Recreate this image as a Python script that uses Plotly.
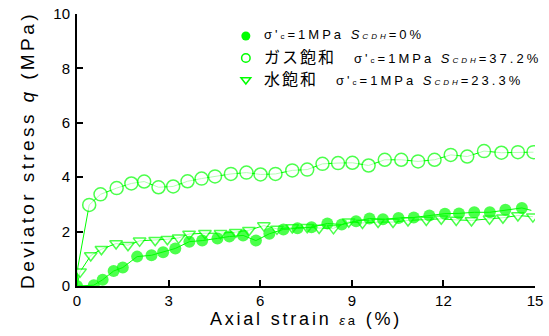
import plotly.graph_objects as go

# Filled circles: σ'c=1MPa S_CDH=0%
x0 = [0, 0.55, 0.84, 1.2, 1.5, 1.97, 2.44, 2.82, 3.22, 3.68, 4.1, 4.6, 4.99, 5.44, 5.86, 6.3,
      6.76, 7.22, 7.68, 8.2, 8.67, 9.14, 9.58, 10.02, 10.53, 11.03, 11.54, 12.05, 12.51, 13.01,
      13.52, 14.03, 14.57, 14.88]
y0 = [0, 0.03, 0.23, 0.55, 0.68, 1.08, 1.13, 1.24, 1.38, 1.63, 1.67, 1.75, 1.82, 1.86, 1.67, 1.92,
      2.08, 2.12, 2.16, 2.3, 2.26, 2.38, 2.48, 2.45, 2.5, 2.52, 2.59, 2.66, 2.67, 2.71,
      2.71, 2.8, 2.87, 2.78]

# Open circles: gas saturated, S_CDH=37.2%
xg = [0, 0.03, 0.4, 0.77, 1.3, 1.78, 2.2, 2.67, 3.15, 3.62, 4.08, 4.52, 5.04, 5.55, 6.01, 6.5,
      7.05, 7.54, 8.04, 8.55, 9.02, 9.55, 10.08, 10.62, 11.17, 11.71, 12.24, 12.78, 13.33,
      13.9, 14.44, 14.95]
yg = [0, 0.7, 2.98, 3.37, 3.6, 3.77, 3.84, 3.63, 3.66, 3.85, 3.95, 4.03, 4.12, 4.17, 4.1, 4.12,
      4.25, 4.28, 4.49, 4.52, 4.53, 4.43, 4.64, 4.64, 4.58, 4.64, 4.82, 4.76, 4.96,
      4.9, 4.92, 4.92]

# Open triangles: water saturated, S_CDH=23.3%
xw = [0, 0.1, 0.45, 0.8, 1.28, 1.67, 2.05, 2.56, 2.96, 3.33, 3.67, 4.19, 4.7, 5.2, 5.63, 6.12,
      6.55, 7.05, 7.54, 7.93, 8.4, 8.9, 9.35, 9.86, 10.35, 10.84, 11.44, 11.93, 12.42, 12.92,
      13.51, 13.95, 14.44, 14.93]
yw = [0, 0.52, 1.12, 1.35, 1.56, 1.5, 1.66, 1.68, 1.72, 1.77, 1.91, 1.94, 1.94, 1.98, 2.05, 2.22,
      2.1, 2.15, 2.16, 2.13, 2.12, 2.36, 2.32, 2.35, 2.35, 2.41, 2.43, 2.47, 2.43, 2.41,
      2.47, 2.51, 2.59, 2.55]

x_ticks = [0, 3, 6, 9, 12, 15]
y_ticks = [0, 2, 4, 6, 8, 10]

GREEN = "#00FF00"
FONT = "Liberation Sans, Arial, Noto Sans CJK JP"
LS = "letter-spacing:3px"

sizes0 = [12] * (len(x0) - 1) + [0]
sizesg = [0, 0] + [13] * (len(xg) - 2)
sizesw = [0] + [11] * (len(xw) - 1)

fig = go.Figure()
fig.add_trace(go.Scatter(x=xg, y=yg, mode="lines+markers", showlegend=False,
                         line=dict(color=GREEN, width=1),
                         marker=dict(symbol="circle", size=sizesg, color="white",
                                     line=dict(color=GREEN, width=1.5))))
fig.add_trace(go.Scatter(x=xw, y=yw, mode="lines+markers", showlegend=False,
                         line=dict(color=GREEN, width=1),
                         marker=dict(symbol="triangle-down", size=sizesw, color="white",
                                     line=dict(color=GREEN, width=1.5))))
fig.add_trace(go.Scatter(x=x0, y=y0, mode="lines+markers", showlegend=False,
                         line=dict(color=GREEN, width=1),
                         marker=dict(symbol="circle", size=sizes0, color=GREEN,
                                     line=dict(color=GREEN, width=0))))

# legend symbols only (text drawn as annotations)
fig.add_trace(go.Scatter(x=[None], y=[None], mode="markers", name=" ", legendgroup="a",
                         marker=dict(symbol="circle", size=9, color=GREEN)))
fig.add_trace(go.Scatter(x=[None], y=[None], mode="markers", name=" ", legendgroup="b",
                         marker=dict(symbol="circle", size=8.5, color="white",
                                     line=dict(color=GREEN, width=1.5))))
fig.add_trace(go.Scatter(x=[None], y=[None], mode="markers", name=" ", legendgroup="c",
                         marker=dict(symbol="triangle-down", size=8.5, color="white",
                                     line=dict(color=GREEN, width=1.5))))

sub = "<span style='font-size:8px'>"
lab0 = (f"<span style='{LS}'>σ'{sub}c</span>=1MPa <i>S</i>{sub}<i>CDH</i></span>=0%</span>")
labg = (f"<span style='letter-spacing:2px;font-size:16px'>ガス飽和</span>     "
        f"<span style='{LS}'>σ'{sub}c</span>=1MPa <i>S</i>{sub}<i>CDH</i></span>=37.2%</span>")
labw = (f"<span style='letter-spacing:2px;font-size:16px'>水飽和</span>     "
        f"<span style='{LS}'>σ'{sub}c</span>=1MPa <i>S</i>{sub}<i>CDH</i></span>=23.3%</span>")
labels = [lab0, labg, labw]
label_y = [0.9228, 0.8419, 0.761]

for lab, ly in zip(labels, label_y):
    fig.add_annotation(text=lab, xref="paper", yref="paper", x=0.405, y=ly,
                       xanchor="left", yanchor="middle", showarrow=False,
                       font=dict(size=13, family=FONT, color="black"))

axis_common = dict(showgrid=False, zeroline=False, showline=True, linecolor="black",
                   linewidth=2, ticks="inside", ticklen=6, tickwidth=1.5, tickcolor="black",
                   tickfont=dict(size=15, color="black", family=FONT), mirror=False,
                   automargin=False)

fig.update_layout(
    width=549, height=336,
    margin=dict(l=77, r=14, t=14, b=50),
    paper_bgcolor="white", plot_bgcolor="white",
    font=dict(family=FONT, color="black", size=13),
    xaxis=dict(range=[0, 15], tickvals=x_ticks, ticktext=[str(v) for v in x_ticks],
               title=dict(text="<span style='letter-spacing:2.8px'>Axial strain "
                               "<span style='font-size:13px'><i>ε</i>a</span> (%)</span>",
                          font=dict(size=18, family=FONT), standoff=2),
               **axis_common),
    yaxis=dict(range=[0, 10], tickvals=y_ticks, ticktext=[str(v) for v in y_ticks],
               ticklabelstandoff=2,
               title=dict(text="<span style='letter-spacing:3.4px'>Deviator stress "
                               "<i>q</i> (MPa)</span>",
                          font=dict(size=19, family=FONT), standoff=14),
               **axis_common),
    legend=dict(x=0.325, y=0.974, xanchor="left", yanchor="top", bgcolor="rgba(0,0,0,0)",
                font=dict(size=13, family=FONT, color="black"), tracegroupgap=2,
                itemwidth=30),
)

fig.write_html("out.html")
